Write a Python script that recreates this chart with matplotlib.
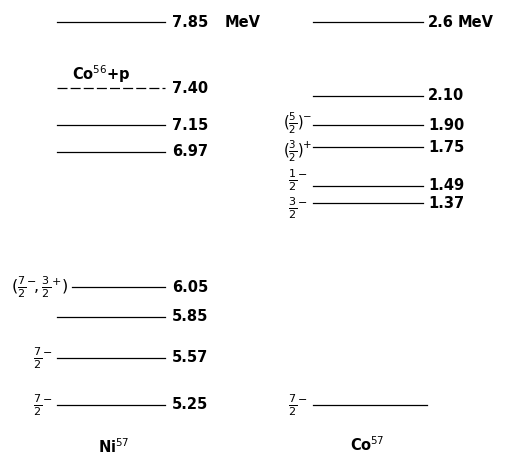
import matplotlib
matplotlib.use('Agg')
import matplotlib.pyplot as plt

# --- level data (MeV) ---
ni_levels = [7.85, 7.40, 7.15, 6.97, 6.05, 5.85, 5.57, 5.25]
ni_labels = ['7.85', '7.40', '7.15', '6.97', '6.05', '5.85', '5.57', '5.25']
ni_spins = [None, None, None, None,
            r'$(\frac{7}{2}^{-}\!,\frac{3}{2}^{+})$', None,
            r'$\frac{7}{2}^{-}$', r'$\frac{7}{2}^{-}$']
ni_dashed = [False, True, False, False, False, False, False, False]

co_levels = [2.6, 2.10, 1.90, 1.75, 1.49, 1.37, 0.0]
co_labels = ['2.6', '2.10', '1.90', '1.75', '1.49', '1.37', None]
co_spins = [None, None, r'$(\frac{5}{2})^{-}$', r'$(\frac{3}{2})^{+}$',
            r'$\frac{1}{2}^{-}$', r'$\frac{3}{2}^{-}$', r'$\frac{7}{2}^{-}$']

# Co57 ground state sits level with the 5.25 MeV Ni57 line
CO_OFFSET = 5.25

plt.rcParams['font.family'] = 'DejaVu Sans'
plt.rcParams['mathtext.fontset'] = 'dejavusans'

fig = plt.figure(figsize=(5.10, 4.55), dpi=100)
ax = fig.add_axes([0, 0, 1, 1])
ax.set_xlim(0, 510)
ax.set_ylim(4.91, 8.0)
ax.axis('off')

NUM_FS = 10.5
SPIN_FS = 11.5

# --- Ni57 column ---
for e, lab, sp, dash in zip(ni_levels, ni_labels, ni_spins, ni_dashed):
    x0 = 72 if e == 6.05 else 57
    ls = (0, (8, 2.5)) if dash else '-'
    ax.plot([x0, 165], [e, e], color='black', lw=0.9, ls=ls)
    ax.text(172, e, lab, ha='left', va='center', fontsize=NUM_FS, fontweight='bold')
    if sp:
        xs = 39 if e == 6.05 else 43
        ax.text(xs, e, sp, ha='center', va='center', fontsize=SPIN_FS)

ax.text(225, ni_levels[0], 'MeV', ha='left', va='center', fontsize=NUM_FS, fontweight='bold')
ax.text(101, ni_levels[1] + 0.025, r'Co$^{56}$+p', ha='center', va='bottom',
        fontsize=NUM_FS, fontweight='bold')
ax.text(113, 4.97, r'Ni$^{57}$', ha='center', va='center', fontsize=NUM_FS, fontweight='bold')

# --- Co57 column ---
spin_dy = {1.90: 0.015, 1.75: -0.025, 1.49: 0.035, 1.37: -0.03}
for e, lab, sp in zip(co_levels, co_labels, co_spins):
    y = e + CO_OFFSET
    x1 = 427 if lab is None else 423
    ax.plot([313, x1], [y, y], color='black', lw=0.9)
    if lab:
        ax.text(428, y, lab, ha='left', va='center', fontsize=NUM_FS, fontweight='bold')
    if sp:
        fs = 10.5 if e in (1.90, 1.75) else SPIN_FS
        ax.text(298, y + spin_dy.get(e, 0), sp, ha='center', va='center', fontsize=fs)

ax.text(458, co_levels[0] + CO_OFFSET, 'MeV', ha='left', va='center',
        fontsize=NUM_FS, fontweight='bold')
ax.text(367, 4.98, r'Co$^{57}$', ha='center', va='center', fontsize=NUM_FS, fontweight='bold')

fig.savefig('out.png', dpi=100, facecolor='white')
